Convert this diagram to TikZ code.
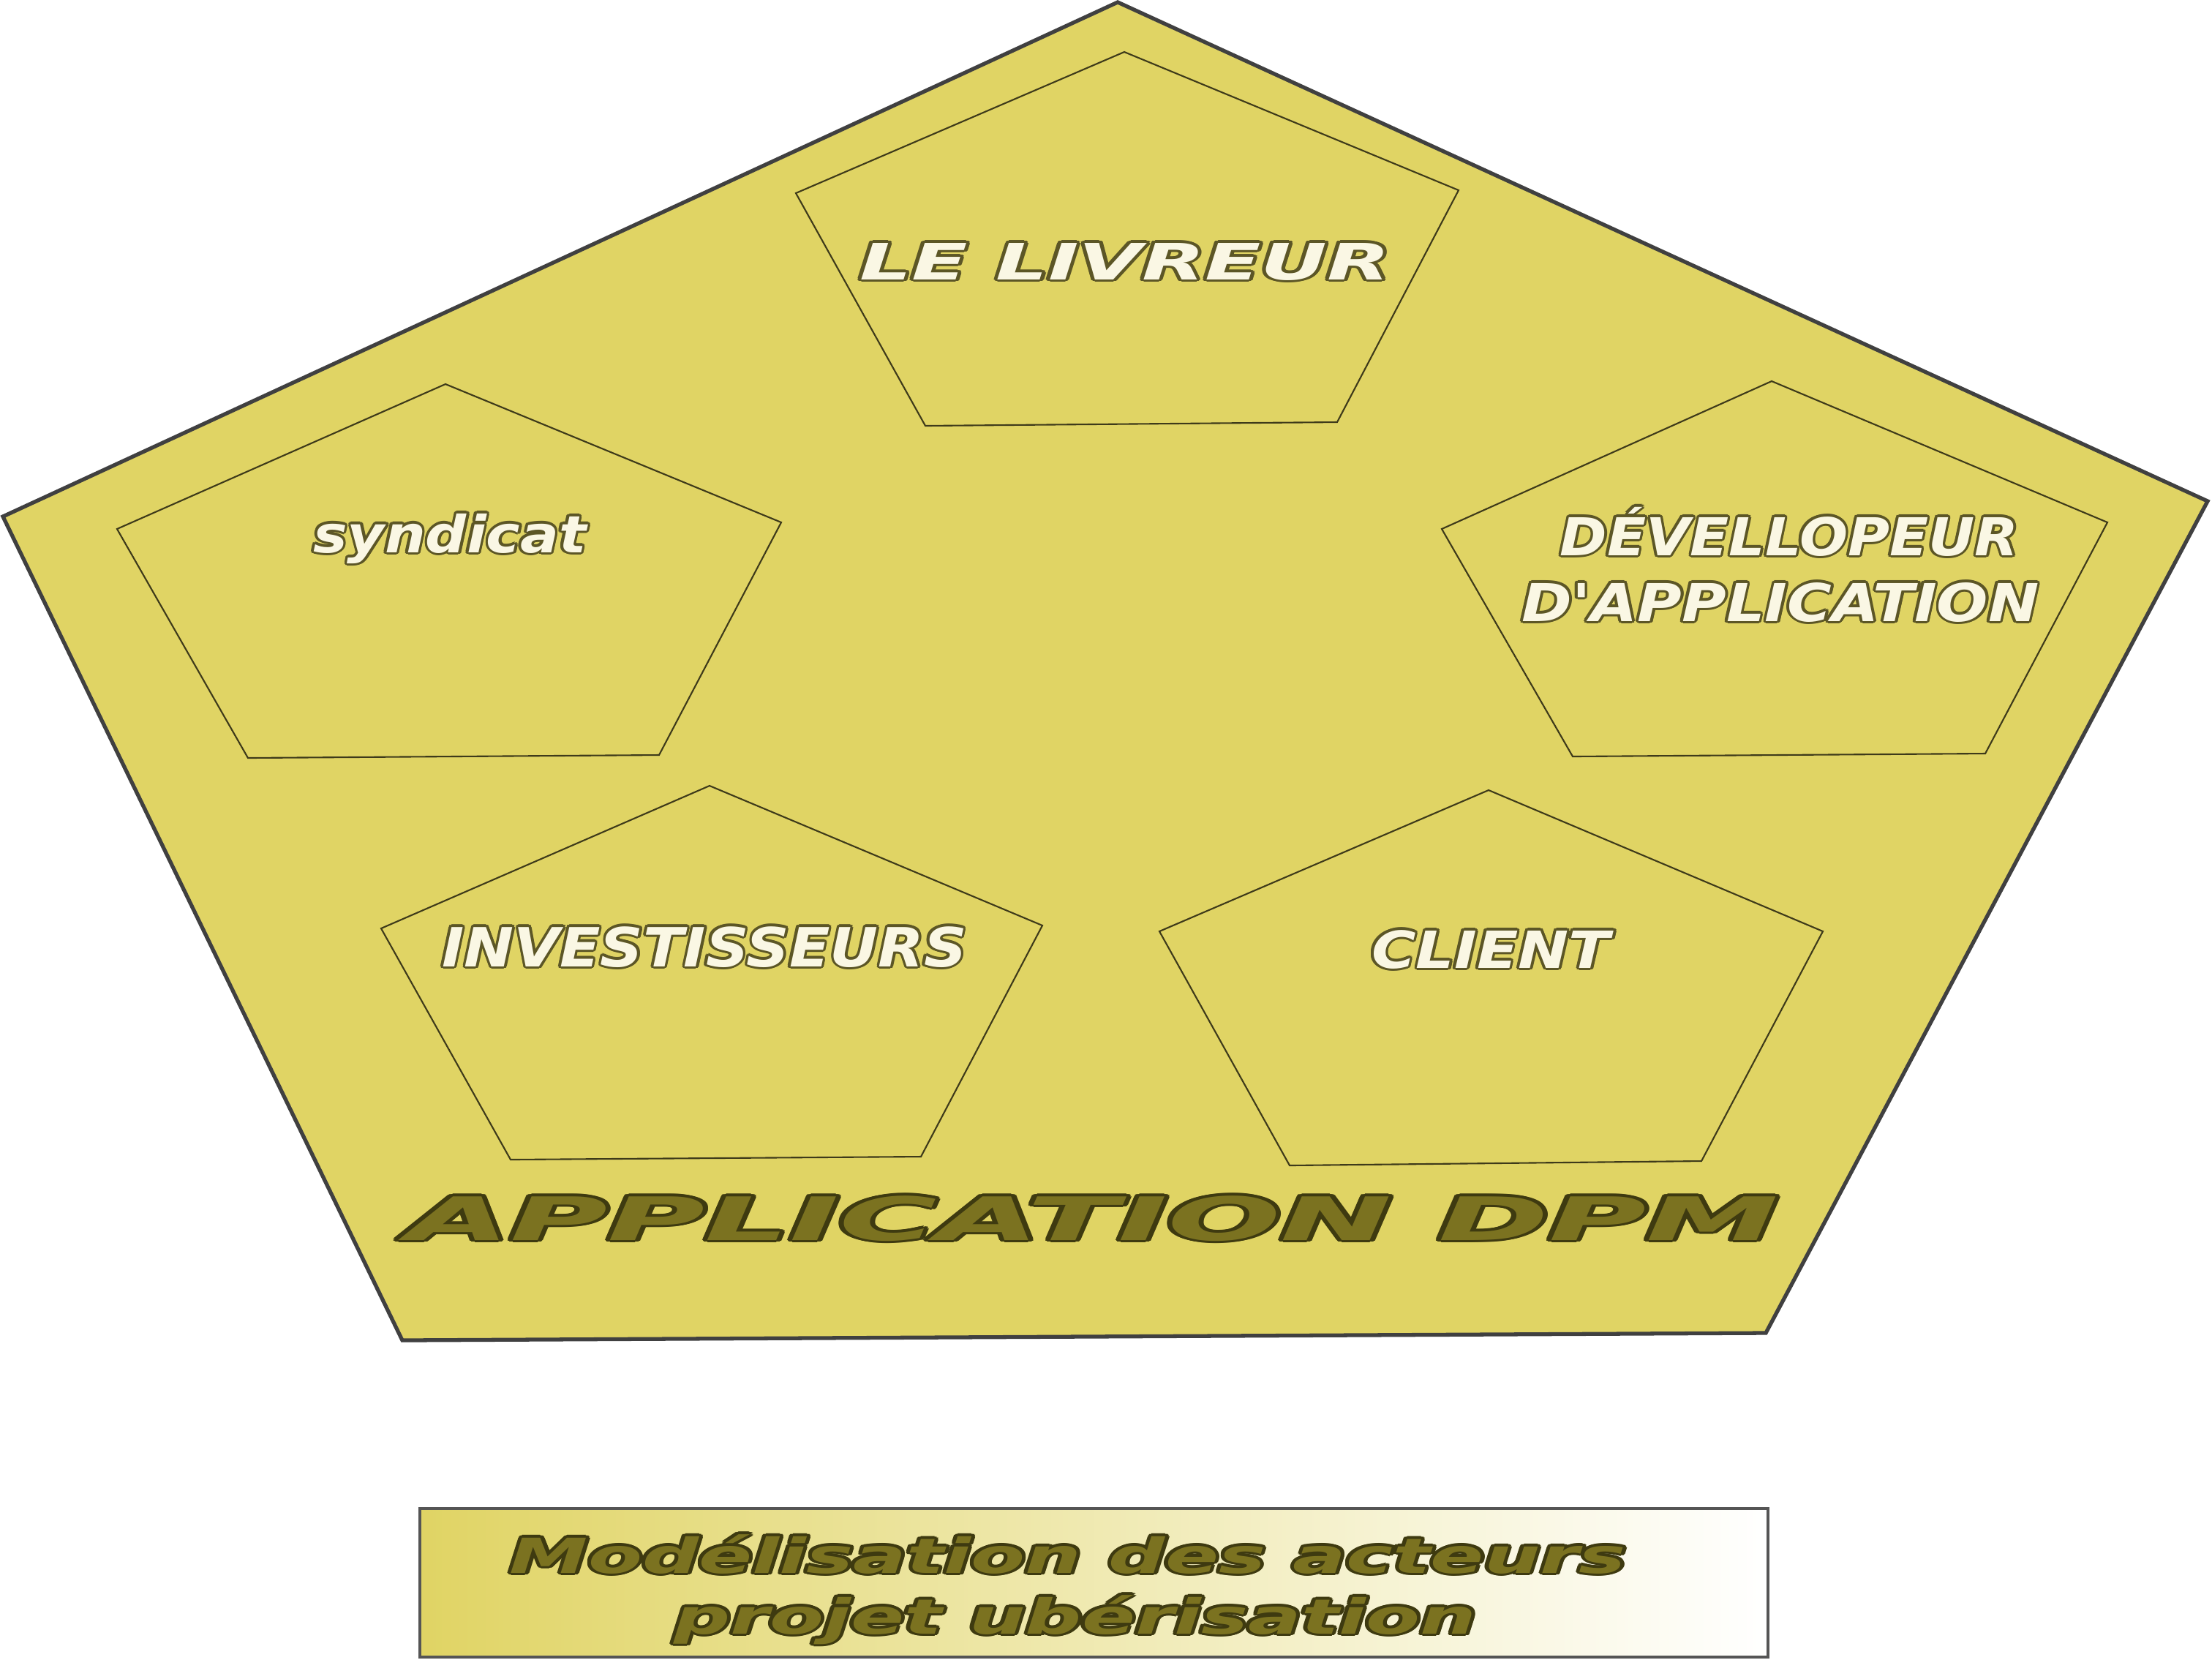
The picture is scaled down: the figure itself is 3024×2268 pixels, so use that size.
\documentclass[tikz,border=0pt]{standalone}
\usepackage{fontspec}
\setmainfont{DejaVu Sans}
\usepackage{graphicx}
\usepackage{contour}
\contourlength{0.9pt}
\contournumber{16}
\definecolor{pentfill}{HTML}{E0D464}
\definecolor{pentline}{HTML}{404040}
\definecolor{innerline}{HTML}{3E3A1A}
\definecolor{creamtxt}{HTML}{FAF7E4}
\definecolor{creamline}{HTML}{5C5626}
\definecolor{olivetxt}{HTML}{7B7220}
\definecolor{oliveline}{HTML}{3E3A10}
\definecolor{boxline}{HTML}{555555}
\newcommand{\creamlbl}[3]{{\fontsize{#1}{#1}\selectfont\bfseries\itshape\scalebox{#2}[1]{\contour{creamline}{\textcolor{creamtxt}{#3}}}}}
\newcommand{\olivelbl}[3]{{\fontsize{#1}{#1}\selectfont\bfseries\itshape\scalebox{#2}[1]{\contour{oliveline}{\textcolor{olivetxt}{#3}}}}}
\tikzset{
  outerpent/.style={fill=pentfill, draw=pentline, line width=1.5pt, line join=miter},
  actorpent/.style={draw=innerline, line width=0.6pt},
  lbl/.style={inner sep=0pt, anchor=base},
  captionbox/.style={left color=pentfill, right color=white, draw=boxline, line width=0.9pt}
}
\begin{document}
\begin{tikzpicture}[x=0.01cm, y=-0.01cm]
\useasboundingbox (0,0) rectangle (3024,2268);
% outer pentagon
\draw[outerpent] (1528,3) -- (3018,685) -- (2414,1822) -- (550,1832) -- (4,706) -- cycle;
% actor pentagons
\draw[actorpent] (1537,71) -- (1994,260) -- (1828,577) -- (1265,582) -- (1088,264) -- cycle;
\draw[actorpent] (609,525) -- (1068,714) -- (901,1032) -- (339,1036) -- (160,723) -- cycle;
\draw[actorpent] (2422,521) -- (2881,714) -- (2714,1030) -- (2150,1034) -- (1971,723) -- cycle;
\draw[actorpent] (970,1074) -- (1425,1265) -- (1259,1581) -- (698,1585) -- (521,1269) -- cycle;
\draw[actorpent] (2035,1080) -- (2492,1273) -- (2326,1587) -- (1763,1593) -- (1585,1273) -- cycle;
% labels
\node[lbl] (livreur) at (1538,382) {\creamlbl{19.5pt}{1.63}{LE LIVREUR}};
\node[lbl] (syndicat) at (615,755) {\creamlbl{19.9pt}{1.12}{syndicat}};
\node[lbl] (dev1) at (2446,759) {\creamlbl{20.3pt}{1.09}{DÉVELLOPEUR}};
\node[lbl] (dev2) at (2434,849) {\creamlbl{20.3pt}{1.16}{D\textquotesingle APPLICATION}};
\node[lbl] (invest) at (963,1321) {\creamlbl{21pt}{1.10}{INVESTISSEURS}};
\node[lbl] (client) at (2038,1323) {\creamlbl{19.9pt}{1.18}{CLIENT}};
\node[lbl] (app) at (1494,1695) {\olivelbl{23.3pt}{2.22}{APPLICATION DPM}};
% caption box
\shade[captionbox] (574,2062) rectangle (2417,2265);
\node[lbl] (cap1) at (1460,2150) {\olivelbl{18.8pt}{1.63}{Modélisation des acteurs}};
\node[lbl] (cap2) at (1470,2233) {\olivelbl{18.8pt}{1.63}{projet ubérisation}};
\end{tikzpicture}
\end{document}
